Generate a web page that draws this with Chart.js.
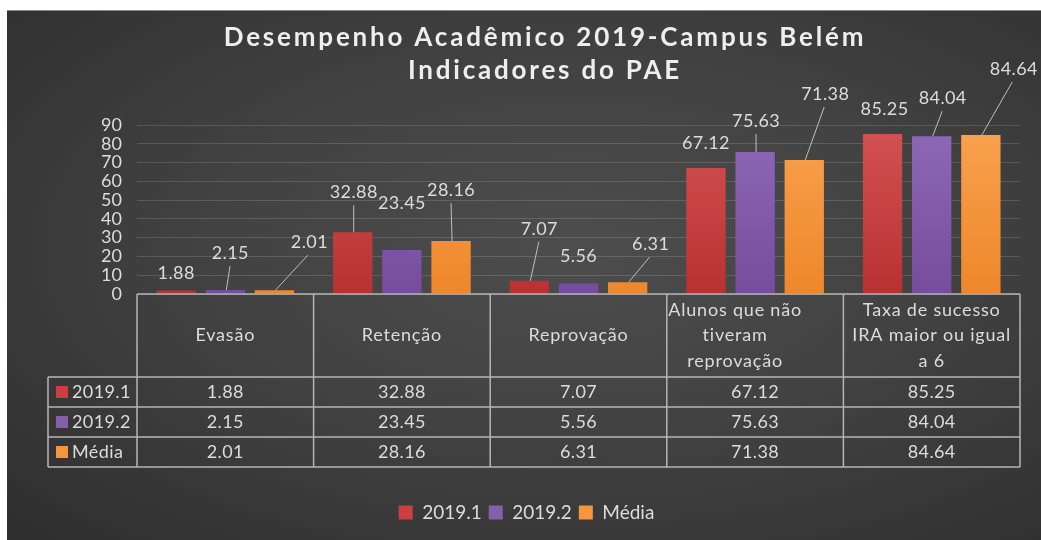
<!DOCTYPE html>
<html>
<head>
<meta charset="utf-8">
<script src="https://cdn.jsdelivr.net/npm/chart.js@4.4.1/dist/chart.umd.min.js"></script>
<style>
  html, body { margin: 0; padding: 0; background: #ffffff; width: 1041px; height: 540px; overflow: hidden; }
  #wrap {
    position: absolute; left: 7px; top: 10px; width: 1034px; height: 530px;
    background: radial-gradient(ellipse at 55% 45%, #4d4d4d 0%, #424242 45%, #2e2e2e 100%);
    border-top: 1px solid #8a8a8a;
    box-sizing: border-box;
  }
  canvas { display: block; }
</style>
</head>
<body>
<div id="wrap"><canvas id="c" width="1034" height="529"></canvas></div>
<script>
const categories = ["Evasão", "Retenção", "Reprovação", "Alunos que não tiveram reprovação", "Taxa de sucesso IRA maior ou igual a 6"];
const headerLines = [["Evasão"], ["Retenção"], ["Reprovação"], ["Alunos que não", "tiveram", "reprovação"], ["Taxa de sucesso", "IRA maior ou igual", "a 6"]];
const seriesNames = ["2019.1", "2019.2", "Média"];
const s2019_1 = [1.88, 32.88, 7.07, 67.12, 85.25];
const s2019_2 = [2.15, 23.45, 5.56, 75.63, 84.04];
const sMedia  = [2.01, 28.16, 6.31, 71.38, 84.64];
const yTicks = [0, 10, 20, 30, 40, 50, 60, 70, 80, 90];
const titleLines = ["Desempenho Acadêmico 2019-Campus Belém", "Indicadores do PAE"];

const FONT = "Lato, 'Open Sans', sans-serif";
const TXT = "#dcdcdc";
const solid = ["#cc3e40", "#8460aa", "#f5953c"];
const gradTop = ["#d35253", "#8e69b6", "#f9a24f"];
const gradBot = ["#b83133", "#774c9d", "#ee872a"];

// label placement (pixel offsets from bar top) and leader-line flags
const labelOffsets = [
  [[0,-17,false],[1,-40,true],[10,-52,true],[0,-25,false],[2,-25,false]],
  [[5,-37,true],[0,-47,false],[0,-27,false],[1,-31,true],[11,-38,true]],
  [[35,-48,true],[0,-51,true],[23,-38,true],[21,-66,true],[33,-66,true]]
];

function grad(ctx, i) {
  const ca = ctx.chart.chartArea;
  if (!ca) return solid[i];
  const g = ctx.chart.ctx.createLinearGradient(0, ca.top, 0, ca.bottom);
  g.addColorStop(0, gradTop[i]);
  g.addColorStop(1, gradBot[i]);
  return g;
}

function spacing(ctx, v) { try { ctx.letterSpacing = v; } catch (e) {} }

const titlePlugin = {
  id: 'titleDraw',
  afterLayout(chart) {
    if (chart.legend) { chart.legend.left += 13; chart.legend.right += 13; }
  },
  afterDraw(chart) {
    const ctx = chart.ctx;
    ctx.save();
    ctx.font = "bold 26px " + FONT;
    spacing(ctx, "2.8px");
    ctx.fillStyle = "#eeeeee";
    ctx.textAlign = "center";
    ctx.textBaseline = "middle";
    ctx.fillText(titleLines[0], 538, 27);
    ctx.fillText(titleLines[1], 538, 60);
    ctx.restore();
  }
};

const labelPlugin = {
  id: 'barLabels',
  afterDatasetsDraw(chart) {
    const ctx = chart.ctx;
    ctx.save();
    ctx.font = "18px " + FONT;
    spacing(ctx, "0.4px");
    ctx.textAlign = "center";
    ctx.textBaseline = "middle";
    chart.data.datasets.forEach((ds, i) => {
      const meta = chart.getDatasetMeta(i);
      meta.data.forEach((el, j) => {
        const [dx, dy, lead] = labelOffsets[i][j];
        const lx = el.x + dx, ly = el.y + dy;
        if (lead) {
          ctx.strokeStyle = "#bfbfbf";
          ctx.lineWidth = 1;
          ctx.beginPath();
          ctx.moveTo(el.x + 1, el.y);
          ctx.lineTo(lx - dx * 0.05, ly + 13);
          ctx.stroke();
        }
        ctx.fillStyle = TXT;
        ctx.fillText(ds.data[j].toFixed(2), lx, ly);
      });
    });
    ctx.restore();
  }
};

const tablePlugin = {
  id: 'dataTable',
  afterDraw(chart) {
    const ctx = chart.ctx;
    const xs = chart.scales.x;
    const ca = chart.chartArea;
    const half = (xs.getPixelForValue(1) - xs.getPixelForValue(0)) / 2;
    const top = ca.bottom;
    const hdrH = 83, rowH = 30;
    const leftCol = ca.left - 89;
    const rowsTop = top + hdrH;
    const bottom = rowsTop + rowH * 3;
    ctx.save();
    ctx.strokeStyle = "#b5b5b5";
    ctx.lineWidth = 1.5;
    ctx.beginPath();
    ctx.moveTo(ca.left, top); ctx.lineTo(ca.right, top);
    ctx.moveTo(leftCol, rowsTop); ctx.lineTo(ca.right, rowsTop);
    for (let r = 1; r <= 3; r++) {
      ctx.moveTo(leftCol, rowsTop + rowH * r); ctx.lineTo(ca.right, rowsTop + rowH * r);
    }
    ctx.moveTo(leftCol, rowsTop); ctx.lineTo(leftCol, bottom);
    for (let j = 0; j < categories.length; j++) {
      const l = xs.getPixelForValue(j) - half;
      ctx.moveTo(l, top); ctx.lineTo(l, bottom);
    }
    ctx.moveTo(ca.right, top); ctx.lineTo(ca.right, bottom);
    ctx.stroke();

    ctx.fillStyle = TXT;
    ctx.textAlign = "center";
    ctx.textBaseline = "middle";
    ctx.font = "18px " + FONT;
    spacing(ctx, "0.8px");
    headerLines.forEach((lines, j) => {
      const cx = xs.getPixelForValue(j) + (j === 3 ? -20 : 0);
      const mid = top + hdrH / 2;
      lines.forEach((t, k) => {
        ctx.fillText(t, cx, mid + (k - (lines.length - 1) / 2) * 25.5);
      });
    });
    spacing(ctx, "0.4px");
    const all = [s2019_1, s2019_2, sMedia];
    all.forEach((arr, r) => {
      const cy = rowsTop + rowH * r + rowH / 2;
      arr.forEach((v, j) => {
        ctx.fillText(v.toFixed(2), xs.getPixelForValue(j), cy);
      });
      ctx.fillStyle = solid[r];
      ctx.fillRect(leftCol + 8, cy - 6, 12, 12);
      ctx.fillStyle = TXT;
      ctx.textAlign = "left";
      ctx.fillText(seriesNames[r], leftCol + 24, cy);
      ctx.textAlign = "center";
    });
    ctx.restore();
  }
};

new Chart(document.getElementById('c'), {
  type: 'bar',
  data: {
    labels: categories,
    datasets: [
      { label: seriesNames[0], data: s2019_1, backgroundColor: (c) => grad(c, 0) },
      { label: seriesNames[1], data: s2019_2, backgroundColor: (c) => grad(c, 1) },
      { label: seriesNames[2], data: sMedia,  backgroundColor: (c) => grad(c, 2) }
    ]
  },
  options: {
    responsive: false,
    animation: false,
    devicePixelRatio: 1,
    layout: { padding: { top: 114, right: 21, left: 0, bottom: 8 } },
    datasets: { bar: { categoryPercentage: 0.835, barPercentage: 0.8 } },
    scales: {
      x: {
        grid: { display: false },
        border: { display: false },
        ticks: { display: false },
        afterFit(s) { s.height = 202; }
      },
      y: {
        min: 0, max: 90,
        afterBuildTicks(s) { s.ticks = yTicks.map(v => ({ value: v })); },
        afterFit(s) { s.width = 130; },
        grid: { color: "rgba(255,255,255,0.14)", drawTicks: false, lineWidth: 1 },
        border: { display: false },
        ticks: { color: TXT, font: { family: FONT, size: 18 }, padding: 15, autoSkip: false, stepSize: 10 }
      }
    },
    plugins: {
      title: { display: false },
      tooltip: { enabled: false },
      legend: {
        position: 'bottom',
        labels: {
          color: TXT,
          font: { family: FONT, size: 19 },
          boxWidth: 14, boxHeight: 14,
          padding: 7,
          generateLabels() {
            return seriesNames.map((n, i) => ({
              text: n, fillStyle: solid[i], strokeStyle: solid[i], lineWidth: 0,
              fontColor: TXT, datasetIndex: i, hidden: false
            }));
          }
        }
      }
    }
  },
  plugins: [titlePlugin, labelPlugin, tablePlugin]
});
</script>
</body>
</html>
